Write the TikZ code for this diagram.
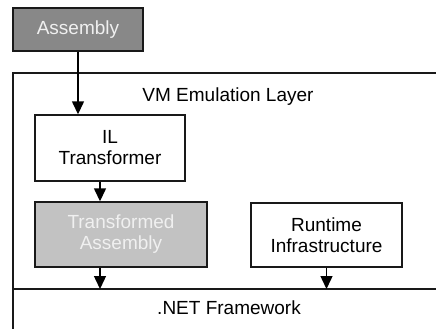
\documentclass[tikz,border=0pt]{standalone}
\usepackage{fontspec}
\setmainfont{Liberation Sans}
\usetikzlibrary{arrows.meta}
\definecolor{darkfill}{RGB}{136,136,136}
\definecolor{lightfill}{RGB}{194,194,194}
\definecolor{lighttext}{RGB}{240,240,240}
\definecolor{edgecol}{RGB}{25,25,25}
\begin{document}
\begin{tikzpicture}[x=1pt,y=-1pt,
  box/.style={draw=edgecol,line width=1.4pt,inner sep=0pt,align=center,
    font=\fontsize{19}{21}\selectfont},
  lbl/.style={inner sep=0pt,font=\fontsize{19}{21}\selectfont},
  flow/.style={line width=1.4pt,-{Triangle[width=12pt,length=13pt]}},
  frame/.style={line width=1.8pt,draw=edgecol}]
\useasboundingbox (0,0) rectangle (436,329);
\fill[white] (0,0) rectangle (436,329);
\node[box,fill=darkfill,text=lighttext,minimum width=130pt,minimum height=43pt] (asm) at (78,29.5) {Assembly};
\node[box,fill=white,minimum width=150pt,minimum height=66pt] (il) at (110,148) {IL\\Transformer};
\node[box,fill=lightfill,text=lighttext,minimum width=172pt,minimum height=65pt] (ta) at (121,234.5) {Transformed\\Assembly};
\node[box,fill=white,minimum width=151pt,minimum height=64pt] (rt) at (326.5,235) {Runtime\\Infrastructure};
\node[lbl] (vm) at (228,97) {VM Emulation Layer};
\node[lbl] (net) at (229,308) {.NET Framework};
\coordinate (tr) at (436,73);
\coordinate (tl) at (13,73);
\coordinate (bl) at (13,329);
\coordinate (ml) at (13,289);
\coordinate (mr) at (436,289);
\draw[frame] (tr) -- (tl) -- (bl);
\draw[frame] (ml) -- (mr);
\coordinate (c1) at (100,0);
\draw[flow] (asm.south) -- (asm.south |- il.north);
\draw[flow] (c1 |- il.south) -- (c1 |- ta.north);
\draw[flow] (c1 |- ta.south) -- (c1 |- ml);
\draw[flow] (rt.south) -- (rt.south |- ml);
\end{tikzpicture}
\end{document}
